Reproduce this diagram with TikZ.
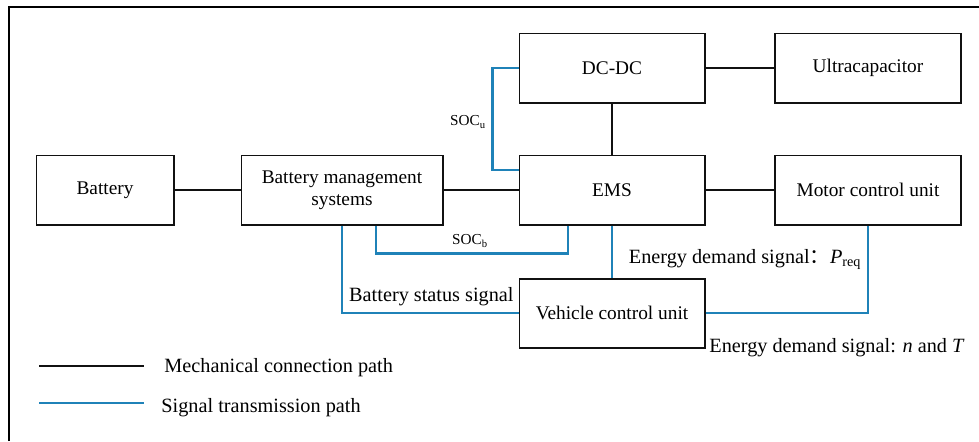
\documentclass[tikz,border=0pt]{standalone}
\usepackage{fontspec}
\setmainfont{Liberation Serif}
\newfontfamily\cjk{Noto Sans CJK SC}
\usepackage{tikz}
\usetikzlibrary{calc, positioning}
\definecolor{C_LINE}{HTML}{111111}
\definecolor{C_SIG} {HTML}{1F82B8}
\tikzset{
  %% -- component block --
  ev/box/.style={
    draw=C_LINE, line width=1.7pt, fill=white,
    minimum height=2.07cm, inner sep=2pt,
    align=center, font=\fontsize{16.5}{19}\selectfont
  },
  %% -- mechanical connection --
  ev/mech/.style={draw=C_LINE, line width=1.9pt},
  %% -- signal connection --
  ev/sig/.style={draw=C_SIG, line width=1.9pt},
  %% -- signal labels --
  ev/lbl/.style={font=\fontsize{17.3}{19}\selectfont, inner sep=1pt},
  ev/soc/.style={font=\fontsize{13}{15}\selectfont, inner sep=1pt},
}

\begin{document}
\begin{tikzpicture}[
  x=0.03cm, y=-0.03cm,
]
\useasboundingbox (0,0) rectangle (979,441);

%% Frame
\draw[line width=1.7pt] (9,441) -- (9,7) -- (979,7);

%% Nodes
\node[ev/box, minimum width=4.11cm] (bat)  at (105,190) {Battery};
\node[ev/box, minimum width=6.03cm] (bms)  at (342,190)
  {Battery management\\systems};
\node[ev/box, minimum width=5.55cm] (dcdc) at (612,68)  {DC-DC};
\node[ev/box, minimum width=5.58cm] (ucap) at (868,68)  {Ultracapacitor};
\node[ev/box, minimum width=5.55cm] (ems)  at (612,190) {EMS};
\node[ev/box, minimum width=5.58cm] (mcu)  at (868,190) {Motor control unit};
\node[ev/box, minimum width=5.55cm] (vcu)  at (612,313) {Vehicle control unit};

%% Mechanical paths
\draw[ev/mech] (bat) -- (bms);
\draw[ev/mech] (bms) -- (ems);
\draw[ev/mech] (ems) -- (mcu);
\draw[ev/mech] (dcdc) -- (ucap);
\draw[ev/mech] (dcdc) -- (ems);

%% Signal paths
\draw[ev/sig] (dcdc.west) -- ++(-26,0) |- ($(ems.west)+(0,-20)$);
\node[ev/soc] (socu) at (468,122) {SOC\textsubscript{u}};

\draw[ev/sig] ($(bms.south)+(34,0)$) -- ++(0,28) -| ($(ems.south)+(-44,0)$);
\node[ev/soc] (socb) at (470,241) {SOC\textsubscript{b}};

\draw[ev/sig] (bms.south) |- (vcu.west);
\node[ev/lbl, anchor=south east] (bss) at (515,307) {Battery status signal};

\draw[ev/sig] (ems.south) -- (vcu.north);

\draw[ev/sig] (vcu.east) -| (mcu.south);
\node[ev/lbl] (preq) at (745,259)
  {Energy demand signal{\cjk ：}\textit{P}\textsubscript{req}};
\node[ev/lbl] (nt) at (837,348)
  {Energy demand signal: \textit{n} and \textit{T}};

%% Legend
\coordinate (m0) at (39,366);
\coordinate (m1) at (144,366);
\coordinate (s0) at (39,403);
\coordinate (s1) at (144,403);
\draw[ev/mech] (m0) -- (m1);
\draw[ev/sig]  (s0) -- (s1);
\node[ev/lbl, anchor=west] (mtxt) at (163,368) {Mechanical connection path};
\node[ev/lbl, anchor=west] (stxt) at (160,408) {Signal transmission path};
\end{tikzpicture}
\end{document}
